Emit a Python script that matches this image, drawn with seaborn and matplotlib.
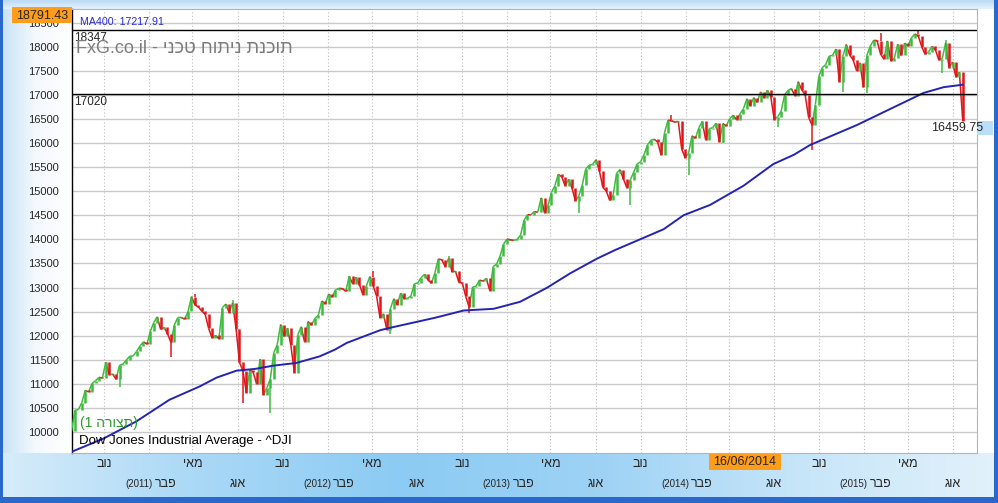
import numpy as np
import pandas as pd
import matplotlib
matplotlib.use('Agg')
import matplotlib.pyplot as plt
import matplotlib.dates as mdates
from matplotlib.collections import LineCollection
from matplotlib.colors import LinearSegmentedColormap
from matplotlib.patches import Rectangle
import seaborn as sns

# weekly closes (Fridays), 2010-08-27 .. 2015-08-21
closes_2010 = [10014, 10448, 10462, 10608, 10860, 10830, 11006, 11062, 11133, 11118,
               11445, 11192, 11204, 11092, 11382, 11410, 11492, 11573, 11578]
closes_2011 = [11675, 11787, 11871, 11823, 12092, 12273, 12391, 12130, 12170, 12044,
               11858, 12221, 12376, 12380, 12342, 12505, 12811, 12638, 12596, 12512,
               12441, 12151, 11952, 12004, 11934, 12582, 12657, 12480, 12681, 12143,
               11444, 11269, 10817, 11285, 11240, 10992, 11509, 10771, 10913, 11103,
               11644, 11809, 12231, 11983, 12153, 11796, 11231, 12019, 12184, 11866,
               12294, 12218]
closes_2012 = [12360, 12422, 12720, 12660, 12862, 12801, 12950, 12983, 12978, 12922,
               13233, 13081, 13212, 13060, 12850, 13029, 13228, 13038, 12821, 12369,
               12454, 12119, 12554, 12767, 12640, 12880, 12772, 12777, 12822, 13076,
               13096, 13207, 13275, 13158, 13090, 13306, 13593, 13579, 13437, 13610,
               13328, 13343, 13107, 13093, 12815, 12588, 13010, 13025, 13155, 13135,
               13190, 12938]
closes_2013 = [13435, 13488, 13650, 13896, 14009, 13993, 13981, 14000, 14090, 14397,
               14514, 14512, 14579, 14565, 14865, 14547, 14712, 14973, 15118, 15354,
               15303, 15116, 15248, 15070, 14800, 14910, 15136, 15464, 15543, 15559,
               15658, 15425, 15081, 15010, 14810, 14922, 15376, 15452, 15258, 15073,
               15237, 15399, 15570, 15615, 15762, 15962, 16064, 16086, 16020, 15755,
               16221, 16479]
closes_2014 = [16470, 16437, 16459, 15879, 15699, 15794, 16154, 16104, 16322, 16453,
               16065, 16303, 16323, 16413, 16027, 16409, 16361, 16513, 16583, 16492,
               16606, 16717, 16924, 16776, 16948, 16851, 17068, 16944, 17100, 16961,
               16493, 16553, 16663, 17001, 17098, 17138, 16988, 17280, 17113, 17009,
               16544, 16380, 16805, 17391, 17573, 17635, 17810, 17828, 17959, 17281,
               17805, 18053]
closes_2015 = [17833, 17737, 17512, 17673, 17165, 17825, 18019, 18140, 18133, 17856,
               17749, 18128, 17713, 17763, 18057, 17826, 18080, 18024, 18191, 18272,
               18232, 18011, 17849, 17899, 18015, 17947, 17730, 17760, 18086, 17568,
               17690, 17373, 17477, 16459.75]
closes = closes_2010 + closes_2011 + closes_2012 + closes_2013 + closes_2014 + closes_2015
weeks = pd.date_range('2010-08-27', periods=len(closes), freq='W-FRI')

# intra-week extremes visible as long wicks
wick_dates = ['2010-12-03', '2011-03-18', '2011-08-12', '2011-10-07', '2012-06-08',
              '2012-11-16', '2013-06-28', '2013-10-11', '2014-02-07', '2014-04-18',
              '2014-08-08', '2014-10-17', '2014-12-19', '2015-02-06', '2015-07-10',
              '2011-05-06', '2011-07-22', '2012-05-04', '2012-10-05', '2014-01-03',
              '2015-03-06', '2015-05-22', '2015-07-17']
wick_values = [10930, 11555, 10600, 10400, 12035, 12470, 14550, 14720, 15340, 16015,
               16330, 15860, 17070, 17040, 17470, 12876, 12750, 13338, 13660, 16590,
               18288, 18351, 18137]

# MA400 line
ma_dates = ['2010-08-28', '2010-10-30', '2011-01-06', '2011-03-15', '2011-05-16',
            '2011-06-19', '2011-07-30', '2011-09-05', '2011-10-13', '2011-11-29',
            '2012-01-16', '2012-02-16', '2012-03-11', '2012-05-18', '2012-06-07',
            '2012-09-07', '2012-11-05', '2013-01-05', '2013-02-28', '2013-04-24',
            '2013-06-10', '2013-08-04', '2013-09-10', '2013-12-18', '2014-01-28',
            '2014-03-23', '2014-05-30', '2014-07-30', '2014-09-10', '2014-10-13',
            '2015-01-17', '2015-03-26', '2015-06-02', '2015-07-13', '2015-08-21']
ma_values = [9589, 9854, 10215, 10667, 10945, 11126, 11272, 11307, 11376, 11432,
             11570, 11710, 11849, 12112, 12162, 12371, 12523, 12558, 12704, 12996,
             13294, 13601, 13780, 14212, 14504, 14718, 15115, 15567, 15760, 15963,
             16380, 16714, 17047, 17166, 17218]

support_levels = [18347, 17020]
y_ticks = [10000, 10500, 11000, 11500, 12000, 12500, 13000, 13500, 14000,
           14500, 15000, 15500, 16000, 16500, 17000, 17500, 18000, 18500]
month_names = {2: 'פבר', 5: 'מאי', 8: 'אוג', 11: 'נוב'}
quarter_ticks = pd.date_range('2010-11-01', '2015-08-01', freq='3MS')
month_ticks = pd.date_range('2010-09-01', '2015-09-01', freq='MS')

top_label = '18791.43'
ma_label = 'MA400: 17217.91'
last_label = '16459.75'
cursor_label = '16/06/2014'
title = 'Dow Jones Industrial Average - ^DJI'
watermark = 'FxG.co.il - ' + 'תוכנת ניתוח טכני'[::-1]   # hebrew in visual order
pattern_label = '(1 ' + 'תצורה'[::-1] + ')'

UP, DOWN = '#3fbb3f', '#e0161a'

sns.set_style('white')
plt.rcParams['font.family'] = ['Liberation Sans', 'DejaVu Sans']

W, H = 998, 503
fig = plt.figure(figsize=(W / 100, H / 100), dpi=100)


def grad(ax, extent, colors, vertical=False):
    cmap = LinearSegmentedColormap.from_list('g', colors)
    g = np.linspace(0, 1, 256)
    arr = g[:, None] if vertical else g[None, :]
    ax.imshow(arr, extent=extent, cmap=cmap, aspect='auto', interpolation='bicubic')


# window background (pixel coordinates)
bg = fig.add_axes([0, 0, 1, 1], zorder=0)
bg.axis('off')
grad(bg, [0, W, 9, 0], ['#b9daf5', '#e6f2fc'], vertical=True)
grad(bg, [0, 72, 453, 9], ['#c6e2f7', '#f4f9fe', '#ffffff'])
grad(bg, [0, W, 497, 453], ['#d6ecfa', '#a9d8f6', '#8ccbf3', '#9dd2f5', '#c6e5f9', '#e2f1fb'])
for r in [(0, 0, 3, H), (994, 0, 4, H), (0, 497, W, 6)]:
    bg.add_patch(Rectangle(r[:2], r[2], r[3], color='#2a68cc', lw=0))
bg.set_xlim(0, W)
bg.set_ylim(H, 0)

# main price axes
ax = fig.add_axes([72 / W, 1 - 453 / H, (977 - 72) / W, (453 - 9) / H], zorder=1)
ax.set_facecolor('white')

c = np.array(closes, dtype=float)
xd = mdates.date2num(weeks)
prev, cur = c[:-1], c[1:]
up = cur >= prev
cols = np.where(up, UP, DOWN)

# connecting strokes between consecutive weeks plus a vertical "candle" per week
segs = [[(xd[i], c[i]), (xd[i + 1], c[i + 1])] for i in range(len(c) - 1)]
ax.add_collection(LineCollection(segs, colors=cols, linewidths=1.1, zorder=3))
ax.vlines(xd[1:], np.minimum(prev, cur), np.maximum(prev, cur), colors=cols, lw=1.8, zorder=3)

for d, v in zip(pd.to_datetime(wick_dates), wick_values):
    i = weeks.get_loc(d)
    lo, hi = min(c[i - 1], c[i]), max(c[i - 1], c[i])
    col = UP if c[i] >= c[i - 1] else DOWN
    if v < lo:
        ax.vlines(xd[i], v, lo, color=col, lw=1.1, zorder=3)
    else:
        ax.vlines(xd[i], hi, v, color=col, lw=1.1, zorder=3)

sns.lineplot(x=pd.to_datetime(ma_dates), y=ma_values, ax=ax, color='#2424b4', lw=1.4, zorder=4)

for lvl in support_levels:
    ax.axhline(lvl, color='black', lw=1, zorder=5)
    ax.annotate(str(lvl), xy=(0, lvl), xycoords=('axes fraction', 'data'),
                xytext=(1.5, -1), textcoords='offset points', ha='left', va='top', fontsize=8.5)

ax.set_xlim(pd.Timestamp('2010-08-28'), pd.Timestamp('2015-09-19'))
ax.set_ylim(9560, float(top_label))
ax.set_xlabel('')
ax.set_ylabel('')

ax.set_yticks(y_ticks)
ax.set_yticklabels([str(t) for t in y_ticks])
ax.set_xticks(quarter_ticks)
ax.set_xticklabels([])
ax.set_xticks(month_ticks, minor=True)
ax.tick_params(axis='y', length=8, width=1, color='black', labelsize=8, pad=1.5)
ax.tick_params(axis='x', which='major', length=5, width=2, color='black')
ax.tick_params(axis='x', which='minor', length=5, width=1, color='#e06a6a')

ax.grid(axis='y', color='#c9c9c9', lw=1, ls='-')
ax.grid(axis='x', which='major', color='#bdbdbd', lw=0.8, ls=(0, (1, 2)))
ax.set_axisbelow(True)
for side in ['top', 'right', 'bottom']:
    ax.spines[side].set_color('#b4b4b4')
    ax.spines[side].set_linewidth(0.8)
ax.spines['left'].set_color('black')
ax.spines['left'].set_linewidth(1)

# two-row hebrew month labels
for q in quarter_ticks:
    name = month_names[q.month][::-1]
    if q.month in (11, 5):
        ax.annotate(name, xy=(q, 0), xycoords=('data', 'axes fraction'), xytext=(0, -8),
                    textcoords='offset points', ha='center', va='center', fontsize=9)
    elif q.month == 8:
        ax.annotate(name, xy=(q, 0), xycoords=('data', 'axes fraction'), xytext=(0, -22.3),
                    textcoords='offset points', ha='center', va='center', fontsize=9)
    else:
        ax.annotate('(%d)' % q.year, xy=(q, 0), xycoords=('data', 'axes fraction'),
                    xytext=(2.5, -22.3), textcoords='offset points', ha='right', va='center',
                    fontsize=7)
        ax.annotate(name, xy=(q, 0), xycoords=('data', 'axes fraction'), xytext=(4, -22.3),
                    textcoords='offset points', ha='left', va='center', fontsize=9)

ax.text(0.004, 0.91, watermark, transform=ax.transAxes, fontsize=13, color='#7c7c7c',
        ha='left', va='center', zorder=6)
ax.text(0.009, 0.971, ma_label, transform=ax.transAxes, fontsize=7.7, color='#2a2ad0',
        ha='left', va='center', zorder=6)
ax.text(0.009, 0.068, pattern_label, transform=ax.transAxes, fontsize=10, color='#2f9a2f',
        ha='left', va='center', zorder=6)
ax.text(0.008, 0.026, title, transform=ax.transAxes, fontsize=9.5, color='black',
        ha='left', va='center', zorder=6)

# overlay boxes in window pixel coordinates
ov = fig.add_axes([0, 0, 1, 1], zorder=2)
ov.set_xlim(0, W)
ov.set_ylim(H, 0)
ov.axis('off')
ov.patch.set_alpha(0)
ov.add_patch(Rectangle((12, 7), 60, 16, color='#ff9c1a', lw=0))
ov.text(42, 15.5, top_label, ha='center', va='center', fontsize=9)
ov.add_patch(Rectangle((709, 454), 72, 16, color='#ff9c1a', lw=0))
ov.text(745, 462, cursor_label, ha='center', va='center', fontsize=9)
ov.add_patch(Rectangle((977, 120.5), 16, 14.5, color='#b9def8', lw=0))
ov.text(983, 127.5, last_label, ha='right', va='center', fontsize=9)

fig.savefig('out.png', dpi=100)
